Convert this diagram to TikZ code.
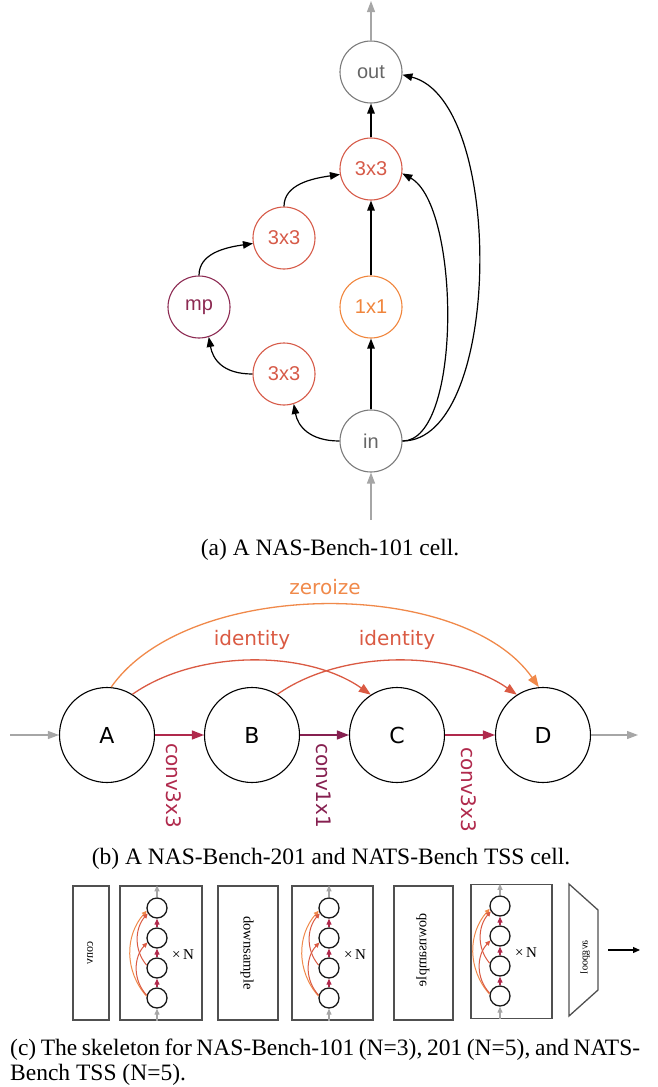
\documentclass[tikz,border=0pt]{standalone}
\usepackage{fontspec}
\setmainfont{Liberation Serif}
\newfontfamily\opfont{Liberation Sans}
\newfontfamily\cellfont{DejaVu Sans}
\usetikzlibrary{arrows.meta}

\definecolor{iogray}{HTML}{7A7A7A}
\definecolor{iotext}{HTML}{666666}
\definecolor{opred}{HTML}{D65A48}
\definecolor{oporange}{HTML}{F0853C}
\definecolor{oppurple}{HTML}{8C2A52}
\definecolor{flowgray}{HTML}{A6A6A6}
\definecolor{convcrimson}{HTML}{B0294C}
\definecolor{convplum}{HTML}{862050}
\definecolor{skipred}{HTML}{DA5A43}
\definecolor{zeroorange}{HTML}{F0894A}
\definecolor{boxgray}{HTML}{505050}

% one repeated cell of the skeleton: prefix, box centre x, box centre y, box width, column x, top circle y
\newcommand\skelcell[6]{%
  \node[skbox, minimum width=#4, minimum height=134] (#1box) at (#2,#3) {};
  \node[minic] (#1d) at (#5,#6) {};
  \node[minic] (#1c) at (#5,#6+30) {};
  \node[minic] (#1b) at (#5,#6+60) {};
  \node[minic] (#1a) at (#5,#6+90) {};
  \draw[minigray] (#1d) -- (#1box.north -| #1d);
  \draw[minigray] (#1box.south -| #1a) -- (#1a);
  \draw[miniconv] (#1a) -- (#1b);
  \draw[miniconv] (#1b) -- (#1c);
  \draw[miniconv] (#1c) -- (#1d);
  \draw[miniskip, draw=zeroorange] (#1a.170) .. controls +(-22,-25) and +(-22,25) .. (#1d.195);
  \draw[miniskip, draw=skipred] (#1a.165) .. controls +(-14,-15) and +(-14,15) .. (#1c.205);
  \draw[miniskip, draw=skipred] (#1b.165) .. controls +(-13,-15) and +(-13,15) .. (#1d.210);
  \node[font=\fontsize{15pt}{15pt}\selectfont, inner sep=0pt] (#1n) at (#5+26,#6+47) {×\,N};
}

\begin{document}
\begin{tikzpicture}[x=1pt,y=-1pt,
  opnode/.style={circle, draw, line width=1.1pt, minimum size=62pt, inner sep=0pt,
    font=\opfont\fontsize{20pt}{20pt}\selectfont},
  blackflow/.style={line width=1.2pt, -{Triangle[length=10pt,width=7.5pt]}},
  grayflow/.style={draw=flowgray, line width=1.2pt, -{Triangle[length=11pt,width=8pt]}},
  bcell/.style={circle, draw, line width=1.1pt, minimum size=95pt, inner sep=0pt,
    font=\cellfont\fontsize{22pt}{22pt}\selectfont},
  bedge/.style={line width=1.3pt, -{Triangle[length=12pt,width=9pt]}},
  blabel/.style={font=\cellfont\fontsize{20pt}{20pt}\selectfont, inner sep=0pt},
  caption/.style={font=\fontsize{23.5pt}{27pt}\selectfont, inner sep=0pt, anchor=base},
  skbox/.style={draw=boxgray, line width=1.3pt, inner sep=0pt},
  sklabel/.style={inner sep=0pt},
  minic/.style={circle, draw=black!90, line width=1.3pt, minimum size=20pt, inner sep=0pt},
  minigray/.style={draw=flowgray, line width=1.1pt, -{Triangle[length=6pt,width=5pt]}},
  miniconv/.style={draw=convcrimson, line width=1.1pt, -{Triangle[length=6pt,width=5pt]}},
  miniskip/.style={line width=1pt, -{Triangle[length=5pt,width=4.5pt]}}]
\useasboundingbox (0,0) rectangle (658,1087);

% ---------------- (a) NAS-Bench-101 cell ----------------
\node[opnode, draw=iogray, text=iotext] (out) at (371,72) {out};
\node[opnode, draw=opred, text=opred] (t3) at (371,169) {3x3};
\node[opnode, draw=opred, text=opred] (l3) at (284,238) {3x3};
\node[opnode, draw=oppurple, text=oppurple] (mp) at (199,307) {mp};
\node[opnode, draw=oporange, text=oporange] (c1) at (371,307) {1x1};
\node[opnode, draw=opred, text=opred] (b3) at (284,374) {3x3};
\node[opnode, draw=iogray, text=iotext] (in) at (371,441) {in};
\coordinate (outtop) at (371,1);
\coordinate (inbot) at (371,520);

\draw[grayflow] (out) -- (outtop);
\draw[grayflow] (inbot) -- (in);
\draw[blackflow] (in.west) .. controls +(-30,0) and +(4,22) .. (b3.-72);
\draw[blackflow] (b3.west) .. controls +(-30,0) and +(4,22) .. (mp.-72);
\draw[blackflow] (mp.north) .. controls +(0,-22) and +(-28,4) .. (l3.190);
\draw[blackflow] (l3.north) .. controls +(0,-22) and +(-28,4) .. (t3.190);
\draw[blackflow] (in) -- (c1);
\draw[blackflow] (c1) -- (t3);
\draw[blackflow] (t3) -- (out);
\draw[blackflow] (in.east) .. controls +(60,0) and +(58,32) .. (t3.-8);
\draw[blackflow] (in.east) .. controls +(100,0) and +(103,26) .. (out.-5);

\node[caption] (capa) at (330,555) {(a) A NAS-Bench-101 cell.};

% ---------------- (b) NAS-Bench-201 cell ----------------
\node[bcell] (A) at (107,735) {A};
\node[bcell] (B) at (252,735) {B};
\node[bcell] (C) at (397,735) {C};
\node[bcell] (D) at (543,735) {D};
\coordinate (bin) at (10,735);
\coordinate (bout) at (638,735);

\draw[grayflow] (bin) -- (A);
\draw[grayflow] (D) -- (bout);
\draw[bedge, draw=convcrimson] (A) -- (B);
\draw[bedge, draw=convplum] (B) -- (C);
\draw[bedge, draw=convcrimson] (C) -- (D);
\node[blabel, text=convcrimson, rotate=-90, anchor=west] (lab1) at (174,743) {conv3x3};
\node[blabel, text=convplum, rotate=-90, anchor=west] (lab2) at (324,743) {conv1x1};
\node[blabel, text=convcrimson, rotate=-90, anchor=west] (lab3) at (469,747) {conv3x3};

\draw[bedge, draw=zeroorange] (A.85) .. controls +(76.9,-109.8) and +(-76.9,-109.8) .. (D.95);
\draw[bedge, draw=skipred] (A.58) .. controls +(64.2,-45) and +(-64.2,-45) .. (C.123);
\draw[bedge, draw=skipred] (B.58) .. controls +(64.2,-45) and +(-64.2,-45) .. (D.123);
\node[blabel, text=zeroorange] (labz) at (325,587) {zeroize};
\node[blabel, text=skipred] (labi1) at (252,640) {identity};
\node[blabel, text=skipred] (labi2) at (397,640) {identity};

\node[caption] (capb) at (331,864) {(b) A NAS-Bench-201 and NATS-Bench TSS cell.};

% ---------------- (c) skeleton ----------------
\node[skbox, minimum width=36, minimum height=134] (convbox) at (91,953) {};
\node[sklabel, font=\fontsize{12pt}{12pt}\selectfont, xscale=-1, rotate=-90] (convtxt) at (90,953) {conv};
\skelcell{ca}{161}{953}{82}{157}{908}
\node[skbox, minimum width=60, minimum height=134] (dsa) at (248,953) {};
\node[sklabel, font=\fontsize{14.5pt}{14.5pt}\selectfont, rotate=-90] (dsatxt) at (247,953) {downsample};
\skelcell{cb}{332.5}{953}{81}{329}{908}
\node[skbox, minimum width=59, minimum height=134] (dsb) at (423.5,953) {};
\node[sklabel, font=\fontsize{14.5pt}{14.5pt}\selectfont, xscale=-1, rotate=-90] (dsbtxt) at (423,950) {downsample};
\skelcell{cc}{511.5}{951.5}{81}{500}{906}
\draw[boxgray, line width=1.3pt] (569,884) -- (598,910) -- (598,990) -- (569,1016) -- cycle;
\node[sklabel, font=\fontsize{10.5pt}{10.5pt}\selectfont, xscale=-1, rotate=-90] (pooltxt) at (585,957) {avgpool};
\coordinate (netout) at (640,950);
\coordinate (poolout) at (608,950);
\draw[line width=1.1pt, -{Triangle[length=7pt,width=6pt]}] (poolout) -- (netout);

\node[caption, anchor=base west] (capc1) at (10,1055)
  {\makebox[630pt][s]{(c) The skeleton for NAS-Bench-101 (N=3), 201 (N=5), and NATS-}};
\node[caption, anchor=base west] (capc2) at (10,1080) {Bench TSS (N=5).};
\end{tikzpicture}
\end{document}
